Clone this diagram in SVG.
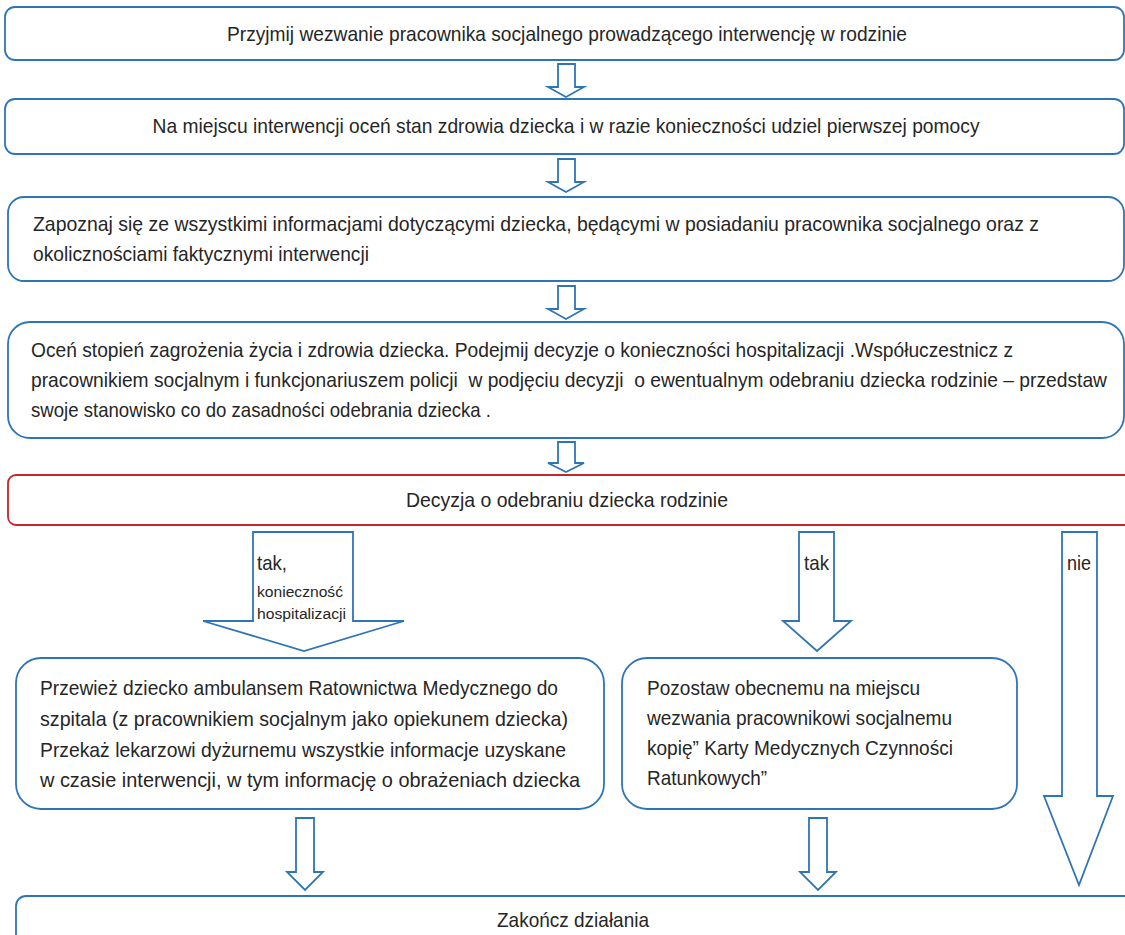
<svg xmlns="http://www.w3.org/2000/svg" width="1125" height="935" viewBox="0 0 1125 935">
<style>
.box{fill:#fff;stroke:#2e75b6;stroke-width:1.8}
.red{fill:#fff;stroke:#c4262e;stroke-width:1.8}
.arr{fill:#fff;stroke:#2e75b6;stroke-width:1.8;stroke-linejoin:miter}
text{font-family:"Liberation Sans",Arial,sans-serif;font-size:21px;fill:#262626}
.c{text-anchor:middle}
.s{font-size:15.5px}
</style>
<rect width="1125" height="935" fill="#fff"/>
<g id="n1"><rect class="box" x="5" y="7" width="1119" height="53" rx="10"/><text class="c" x="567" y="41" textLength="680" lengthAdjust="spacingAndGlyphs">Przyjmij wezwanie pracownika socjalnego prowadzącego interwencję w rodzinie</text></g>
<g id="n2"><rect class="box" x="5" y="99" width="1119" height="55" rx="10"/><text class="c" x="566" y="133" textLength="827" lengthAdjust="spacingAndGlyphs">Na miejscu interwencji oceń stan zdrowia dziecka i w razie konieczności udziel pierwszej pomocy</text></g>
<g id="n3"><rect class="box" x="8" y="197" width="1116" height="84" rx="16"/><text x="33" y="231" textLength="1006" lengthAdjust="spacingAndGlyphs">Zapoznaj się ze wszystkimi informacjami dotyczącymi dziecka, będącymi w posiadaniu pracownika socjalnego oraz z</text><text x="33" y="261" textLength="336" lengthAdjust="spacingAndGlyphs">okolicznościami faktycznymi interwencji</text></g>
<g id="n4"><rect class="box" x="8" y="322" width="1116" height="116" rx="22"/><text x="31" y="357" textLength="982" lengthAdjust="spacingAndGlyphs">Oceń stopień zagrożenia życia i zdrowia dziecka. Podejmij decyzje o konieczności hospitalizacji .Współuczestnicz z</text><text x="31" y="387" textLength="1076" lengthAdjust="spacingAndGlyphs" xml:space="preserve">pracownikiem socjalnym i funkcjonariuszem policji  w podjęciu decyzji  o ewentualnym odebraniu dziecka rodzinie – przedstaw</text><text x="31" y="417" textLength="460" lengthAdjust="spacingAndGlyphs">swoje stanowisko co do zasadności odebrania dziecka .</text></g>
<g id="n5"><rect class="red" x="8" y="475" width="1130" height="50" rx="8"/><text class="c" x="567" y="507" textLength="322" lengthAdjust="spacingAndGlyphs">Decyzja o odebraniu dziecka rodzinie</text></g>
<g id="n6"><rect class="box" x="16" y="658" width="588" height="151" rx="25"/><text x="40" y="695" textLength="518" lengthAdjust="spacingAndGlyphs">Przewież dziecko ambulansem Ratownictwa Medycznego do</text><text x="40" y="726" textLength="528" lengthAdjust="spacingAndGlyphs">szpitala (z pracownikiem socjalnym jako opiekunem dziecka)</text><text x="40" y="757" textLength="526" lengthAdjust="spacingAndGlyphs">Przekaż lekarzowi dyżurnemu wszystkie informacje uzyskane</text><text x="40" y="787" textLength="540" lengthAdjust="spacingAndGlyphs">w czasie interwencji, w tym informację o obrażeniach dziecka</text></g>
<g id="n7"><rect class="box" x="622" y="658" width="395" height="151" rx="25"/><text x="647" y="695" textLength="273" lengthAdjust="spacingAndGlyphs">Pozostaw obecnemu na miejscu</text><text x="647" y="725" textLength="305" lengthAdjust="spacingAndGlyphs">wezwania pracownikowi socjalnemu</text><text x="647" y="755" textLength="306" lengthAdjust="spacingAndGlyphs">kopię” Karty Medycznych Czynności</text><text x="647" y="785" textLength="120" lengthAdjust="spacingAndGlyphs">Ratunkowych”</text></g>
<g id="n8"><rect class="box" x="16" y="896" width="1120" height="60" rx="10"/><text class="c" x="573" y="927" textLength="152" lengthAdjust="spacingAndGlyphs">Zakończ działania</text></g>
<g id="connectors">
<polygon class="arr" points="558,64 575,64 575,87 584,87 566,97 548,87 558,87"/>
<polygon class="arr" points="558,159 575,159 575,182 584,182 566,192 548,182 558,182"/>
<polygon class="arr" points="558,286 575,286 575,309 584,309 566,319 548,309 558,309"/>
<polygon class="arr" points="558,442 575,442 575,463 584,463 566,472 548,463 558,463"/>
<polygon class="arr" points="253,532 353,532 353,621 404,621 304,651 203,621 253,621"/>
<polygon class="arr" points="799,532 834,532 834,621 851,621 817,651 783,621 799,621"/>
<polygon class="arr" points="1062,532 1097,532 1097,796 1113,796 1079,885 1044,796 1062,796"/>
<polygon class="arr" points="296,818 314,818 314,872 323,872 305,890 287,872 296,872"/>
<polygon class="arr" points="809,818 827,818 827,872 836,872 818,890 800,872 809,872"/>
<text x="257" y="570" textLength="30" lengthAdjust="spacingAndGlyphs">tak,</text>
<text class="s" x="257" y="597" textLength="86" lengthAdjust="spacingAndGlyphs">konieczność</text>
<text class="s" x="257" y="619" textLength="89" lengthAdjust="spacingAndGlyphs">hospitalizacji</text>
<text x="804" y="570" textLength="25" lengthAdjust="spacingAndGlyphs">tak</text>
<text x="1067" y="570" textLength="24" lengthAdjust="spacingAndGlyphs">nie</text>
</g>
</svg>
